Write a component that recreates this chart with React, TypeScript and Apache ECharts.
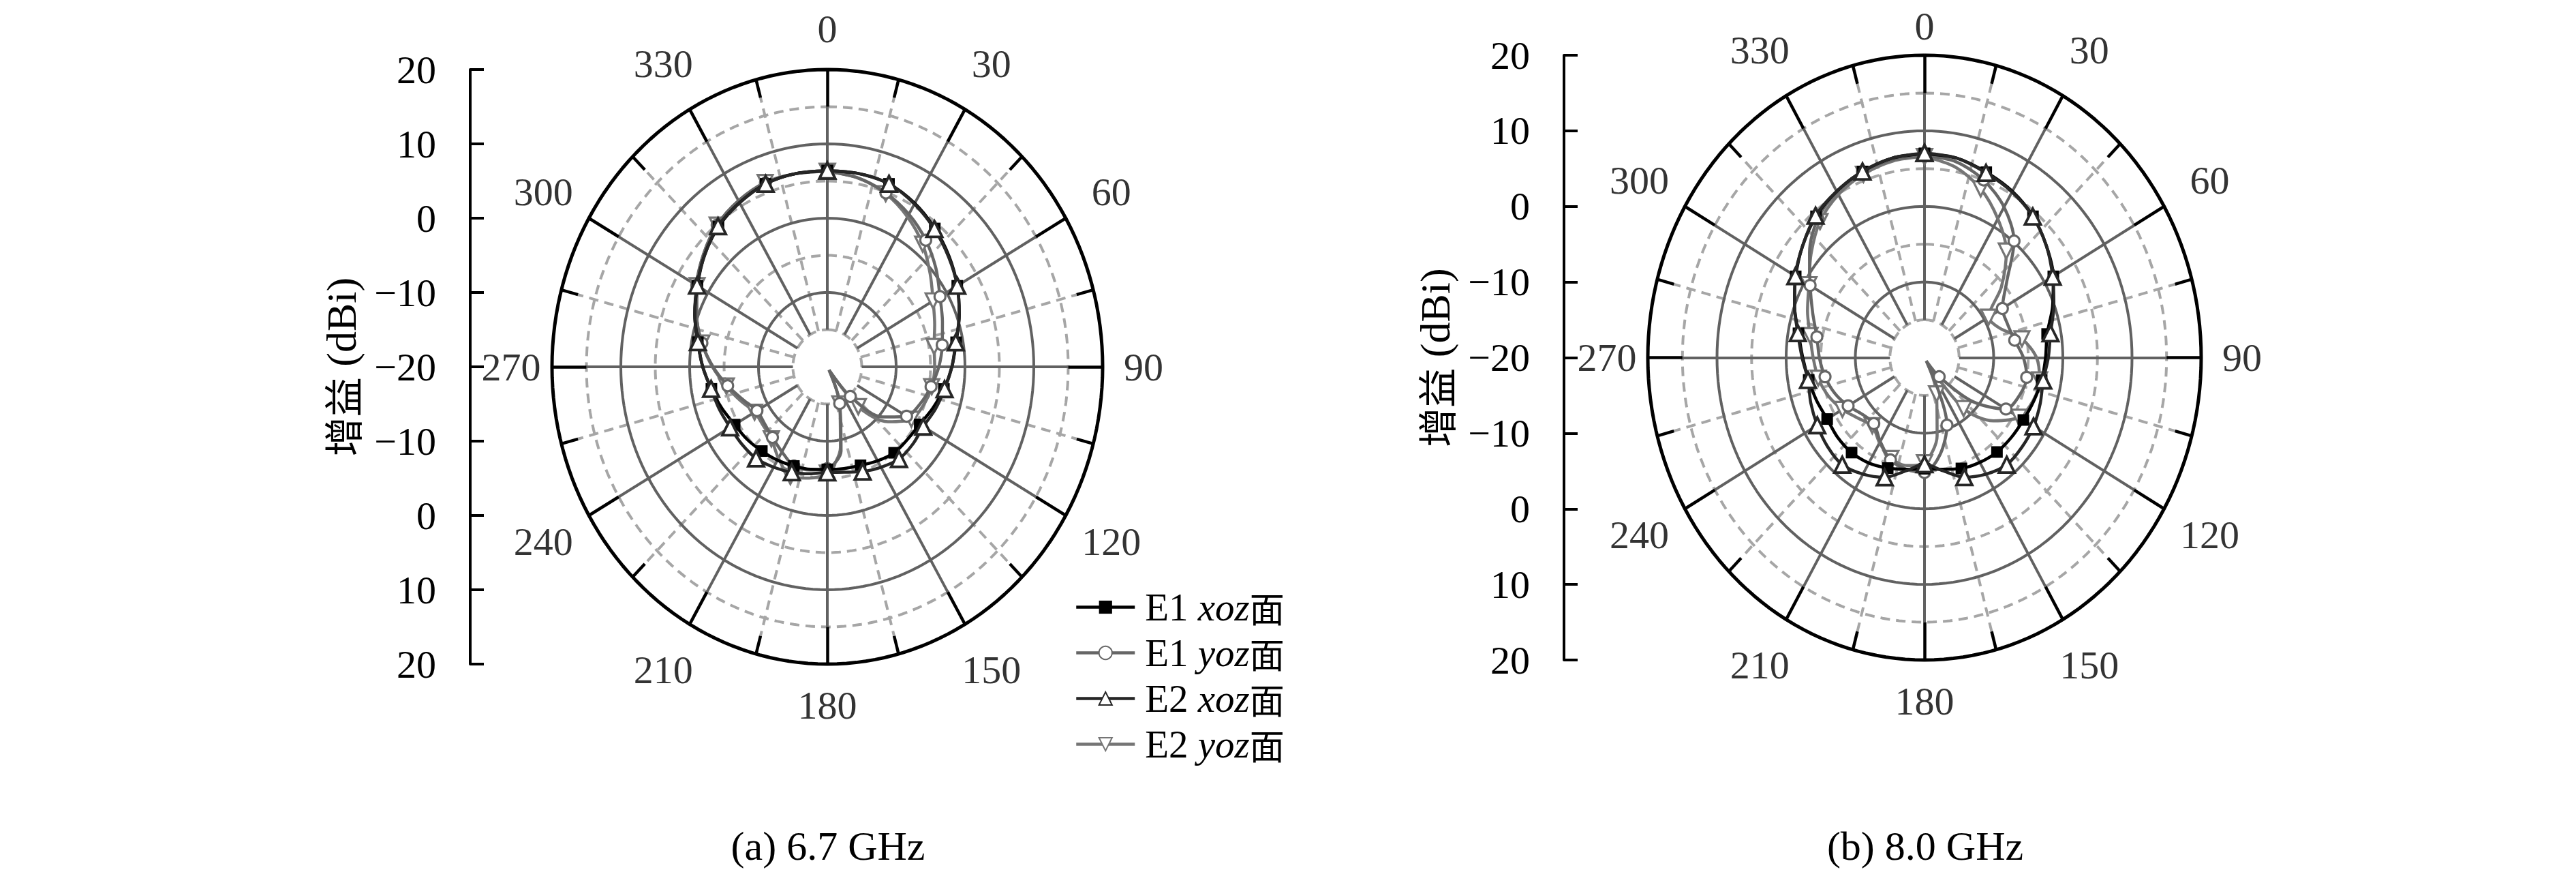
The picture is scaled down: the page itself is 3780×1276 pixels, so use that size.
import { useEffect, useRef } from "react";
import * as echarts from "echarts";

// ---------- data ----------
const ANGLES = [0, 10, 20, 30, 40, 50, 60, 70, 80, 90, 100, 110, 120, 130, 140, 150, 160, 170,
  180, 190, 200, 210, 220, 230, 240, 250, 260, 270, 280, 290, 300, 310, 320, 330, 340, 350];

const SERIES_NAMES = ["E1 xoz面", "E1 yoz面", "E2 xoz面", "E2 yoz面"];
const CAPTIONS = ["(a) 6.7 GHz", "(b) 8.0 GHz"];

// 6.7 GHz (gain, dBi)
const A_E1_XOZ = [6.4, 6.4, 6.2, 5.4, 4.3, 3.1, 1.8, 0.4, -1.0, -1.9, -2.8, -3.7, -4.5, -4.8, -4.9, -5.4, -5.9, -6.1,
  -6.2, -6.0, -5.8, -5.5, -5.2, -4.8, -4.45, -3.7, -2.9, -1.9, -0.9, 0.5, 1.8, 3.3, 4.6, 5.5, 6.2, 6.4];
const A_E1_YOZ = [6.3, 5.8, 4.9, 3.7, 2.25, 0.6, -1.1, -2.2, -3.05, -3.8, -4.7, -5.6, -6.7, -9.5, -14.8, -19.5, -14.75, -8.5,
  -6.3, -5.9, -5.8, -6.8, -7.6, -8.1, -8.2, -7.0, -5.3, -3.4, -1.5, 0.2, 1.9, 3.5, 4.9, 5.8, 6.3, 6.4];
const A_E2_XOZ = [6.4, 6.4, 6.2, 5.3, 4.2, 3.0, 1.8, 0.4, -1.05, -1.9, -2.7, -3.3, -3.9, -3.8, -3.8, -4.4, -5.0, -5.6,
  -5.8, -5.4, -4.9, -4.4, -3.9, -3.8, -3.7, -3.3, -2.85, -1.9, -0.9, 0.5, 1.86, 3.3, 4.7, 5.5, 6.2, 6.4];
const A_E2_YOZ = [6.3, 5.8, 4.8, 3.3, 1.55, -0.5, -2.25, -3.4, -4.24, -4.4, -4.6, -5.1, -5.9, -8.5, -13.0, -19.5, -14.7, -9.0,
  -5.7, -4.8, -4.3, -5.8, -7.35, -7.8, -7.8, -6.6, -5.1, -3.3, -1.5, 0.2, 1.85, 3.5, 4.9, 5.8, 6.4, 6.4];

// 8.0 GHz (gain, dBi)
const B_E1_XOZ = [7.0, 6.8, 6.1, 5.4, 4.4, 3.0, 1.5, -0.3, -2.0, -2.5, -2.8, -3.2, -3.5, -3.6, -3.7, -4.0, -4.4, -5.0,
  -5.3, -5.0, -4.45, -3.9, -3.6, -3.6, -3.75, -3.4, -3.0, -2.4, -1.5, 0.0, 1.5, 3.0, 4.4, 5.4, 6.2, 6.8];
const B_E1_YOZ = [6.74, 6.3, 5.0, 3.0, 0.14, -4.5, -7.0, -7.2, -6.76, -5.7, -5.0, -5.4, -6.4, -11.0, -16.7, -19.5, -10.5, -7.0,
  -4.8, -5.0, -5.6, -7.2, -8.6, -8.3, -7.25, -6.2, -5.4, -4.8, -4.2, -2.8, -0.9, 1.7, 4.0, 5.3, 6.2, 6.6];
const B_E2_XOZ = [7.06, 6.8, 6.0, 5.3, 4.36, 3.0, 1.4, -0.1, -1.5, -2.1, -2.57, -2.2, -1.8, -1.6, -1.5, -2.2, -3.16, -4.8,
  -5.9, -4.8, -3.15, -2.2, -1.5, -1.7, -2.1, -2.5, -2.9, -2.3, -1.4, 0.0, 1.56, 3.0, 4.5, 5.4, 6.2, 6.8];
const B_E2_YOZ = [6.6, 5.6, 3.76, 1.2, -1.6, -5.5, -9.3, -8.5, -5.7, -3.8, -3.1, -3.3, -4.24, -7.0, -11.2, -19.0, -14.9, -9.5,
  -6.1, -5.5, -5.8, -7.0, -8.25, -7.5, -6.3, -5.2, -4.4, -3.9, -3.2, -2.0, -0.7, 1.4, 3.5, 4.9, 5.8, 6.4];

// radial scale and grid
const R_MIN = -20;
const R_MAX = 20;
const RADIAL_TICK = 10;
const GRID_LEVELS = [-15, -10, -5, 0, 5, 10, 15, 20];
const SPOKE_ANGLES = [0, 15, 30, 45, 60, 75, 90, 105, 120, 135, 150, 165, 180, 195, 210, 225, 240, 255, 270, 285, 300, 315, 330, 345];
const ANGLE_LABELS = [0, 30, 60, 90, 120, 150, 180, 210, 240, 270, 300, 330];

// ---------- styles / layout ----------
const SERIF = '"Liberation Serif", "DejaVu Serif", serif';
const CJK = '"Noto Sans CJK SC", "Noto Sans CJK JP", sans-serif';
const FONT = 58;
const LABEL_GAP = 60;
const LABEL_DIAG_EXTRA = 20;
const LABEL_MIN_TOP = 38;
const MARK_EVERY = 2;

const PANELS = [
  { grid: { left: 810, top: 102, width: 808, height: 872 }, axisX: 690, captionX: 1215, data: [A_E1_XOZ, A_E1_YOZ, A_E2_XOZ, A_E2_YOZ] },
  { grid: { left: 2418, top: 81, width: 812, height: 887 }, axisX: 2295, captionX: 2825, data: [B_E1_XOZ, B_E1_YOZ, B_E2_XOZ, B_E2_YOZ] },
];

const SERIES_STYLE = [
  { symbol: "rect", size: 17, rotate: 0, line: "#000000", fill: "#000000", border: "#000000", bw: 0, z: 12 },
  { symbol: "circle", size: 16, rotate: 0, line: "#666666", fill: "#ffffff", border: "#666666", bw: 3.2, z: 11 },
  { symbol: "triangle", size: 23, rotate: 0, line: "#262626", fill: "#ffffff", border: "#262626", bw: 3.8, z: 13 },
  { symbol: "triangle", size: 22, rotate: 180, line: "#757575", fill: "#ffffff", border: "#757575", bw: 3.2, z: 10 },
];

const SPAN = R_MAX - R_MIN;

function toXY(angleDeg: number, gain: number): number[] {
  const r = Math.max(0, gain - R_MIN);
  const t = (angleDeg * Math.PI) / 180;
  return [r * Math.sin(t), r * Math.cos(t)];
}

function labelXY(panel: any, angleDeg: number): number[] {
  const pxX = panel.grid.width / (2 * SPAN);
  const pxY = panel.grid.height / (2 * SPAN);
  const t = (angleDeg * Math.PI) / 180;
  const s = Math.sin(t);
  const c = Math.cos(t);
  const d = LABEL_GAP + LABEL_DIAG_EXTRA * Math.abs(Math.sin(2 * t));
  const x = SPAN * s + (d * s) / pxX;
  let y = SPAN * c + (d * c) / pxY;
  const yMax = (panel.grid.top + panel.grid.height / 2 - LABEL_MIN_TOP) / pxY;
  y = Math.min(y, yMax);
  return [x, y];
}

function fmtGain(v: number): string {
  const n = Math.abs(v) + R_MIN;
  return n < 0 ? "\u2212" + String(-n) : String(n);
}

function buildPanelSeries(k: number, panel: any): any[] {
  const gains: number[][] = panel.data;
  const out: any[] = [];
  const base = { xAxisIndex: k, yAxisIndex: k, silent: true, animation: false };
  // circles
  const circleAngles: number[] = [];
  for (let a = 0; a <= 360; a += 2) circleAngles.push(a);
  GRID_LEVELS.forEach((lv) => {
    const dashed = Math.abs(lv) % 10 === 5;
    const outer = lv === R_MAX;
    out.push({
      ...base,
      type: "line",
      data: circleAngles.map((a) => toXY(a, lv)),
      showSymbol: false,
      symbol: "none",
      clip: false,
      z: outer ? 4 : dashed ? 1 : 2,
      lineStyle: outer
        ? { color: "#000", width: 5 }
        : dashed
        ? { color: "#a6a6a6", width: 4, type: [14, 9] }
        : { color: "#616161", width: 4 },
    });
  });
  // spokes
  const major = SPOKE_ANGLES.filter((a) => a % 30 === 0);
  const minor = SPOKE_ANGLES.filter((a) => a % 30 !== 0);
  const inner = GRID_LEVELS[0];
  out.push({
    ...base, type: "lines", coordinateSystem: "cartesian2d", z: 2,
    data: major.map((a) => ({ coords: [toXY(a, inner), toXY(a, 15)] })),
    lineStyle: { color: "#616161", width: 4, opacity: 1, curveness: 0 },
  });
  out.push({
    ...base, type: "lines", coordinateSystem: "cartesian2d", z: 1,
    data: minor.map((a) => ({ coords: [toXY(a, inner), toXY(a, 17.5)] })),
    lineStyle: { color: "#a6a6a6", width: 4, opacity: 1, type: [14, 9], curveness: 0 },
  });
  out.push({
    ...base, type: "lines", coordinateSystem: "cartesian2d", z: 4,
    data: major.map((a) => ({ coords: [toXY(a, 15), toXY(a, R_MAX)] })),
    lineStyle: { color: "#000", width: 4.5, opacity: 1, curveness: 0 },
  });
  out.push({
    ...base, type: "lines", coordinateSystem: "cartesian2d", z: 4,
    data: minor.map((a) => ({ coords: [toXY(a, 17.5), toXY(a, R_MAX)] })),
    lineStyle: { color: "#000", width: 4.5, opacity: 1, curveness: 0 },
  });
  // angle labels
  out.push({
    ...base,
    type: "scatter",
    clip: false,
    symbolSize: 1,
    itemStyle: { color: "rgba(0,0,0,0)" },
    data: ANGLE_LABELS.map((a) => labelXY(panel, a)),
    label: {
      show: true,
      position: "inside",
      formatter: (p: any) => String(ANGLE_LABELS[p.dataIndex]),
      fontFamily: SERIF,
      fontSize: FONT,
      color: "#000",
    },
    z: 5,
  });
  // data series
  gains.forEach((g, i) => {
    const st = SERIES_STYLE[i];
    const pts = ANGLES.map((a, j) => toXY(a, g[j]));
    pts.push(toXY(360, g[0]));
    out.push({
      type: "line",
      name: SERIES_NAMES[i],
      xAxisIndex: k,
      yAxisIndex: k,
      clip: false,
      smooth: 0.3,
      showSymbol: true,
      showAllSymbol: true,
      symbol: st.symbol,
      symbolSize: st.size,
      symbolRotate: st.rotate,
      data: pts.map((p, j) => (j % MARK_EVERY === 0 ? { value: p } : { value: p, symbol: "none" })),
      lineStyle: { color: st.line, width: 4.5 },
      itemStyle: { color: st.fill, borderColor: st.border, borderWidth: st.bw },
      emphasis: { disabled: true },
      z: st.z,
    });
  });
  return out;
}

export default function App() {
  const ref = useRef<HTMLDivElement>(null);
  useEffect(() => {
    if (!ref.current) return;
    const chart = echarts.init(ref.current, undefined, { renderer: "svg" });
    const grids = PANELS.map((p) => ({ ...p.grid, containLabel: false, outerBoundsMode: "none" }));
    const xAxes = PANELS.map((_, k) => ({
      gridIndex: k, type: "value", min: -SPAN, max: SPAN, show: false,
    }));
    const yAxes = PANELS.map((p, k) => ({
      gridIndex: k,
      type: "value",
      min: -SPAN,
      max: SPAN,
      interval: RADIAL_TICK,
      position: "left",
      offset: p.grid.left - p.axisX,
      axisLine: { show: true, onZero: false, lineStyle: { color: "#000", width: 4 } },
      axisTick: { show: true, inside: true, length: 20, lineStyle: { color: "#000", width: 4 } },
      axisLabel: { formatter: (v: number) => fmtGain(v), fontFamily: SERIF, fontSize: FONT, color: "#000", margin: 50 },
      splitLine: { show: false },
      name: "{c|增益}{l| (dBi)}",
      nameLocation: "middle",
      nameRotate: 90,
      nameGap: 158,
      nameTextStyle: {
        fontFamily: SERIF,
        fontSize: 62,
        color: "#000",
        rich: {
          c: { fontFamily: CJK, fontSize: 58, color: "#000" },
          l: { fontFamily: SERIF, fontSize: 62, color: "#000" },
        },
      },
    }));
    const series: any[] = [];
    PANELS.forEach((p, k) => series.push(...buildPanelSeries(k, p)));
    chart.setOption({
      animation: false,
      backgroundColor: "#ffffff",
      grid: grids,
      xAxis: xAxes,
      yAxis: yAxes,
      legend: {
        orient: "vertical",
        left: 1572,
        top: 857,
        itemWidth: 86,
        itemHeight: 24,
        itemGap: 10,
        selectedMode: false,
        data: SERIES_NAMES,
        lineStyle: { width: 4.5 },
        formatter: (name: string) => {
          const [e, plane] = name.split(" ");
          return `{r|${e} }{i|${plane.replace("面", "")}}{c|面}`;
        },
        textStyle: {
          fontFamily: SERIF,
          fontSize: 57,
          color: "#000",
          rich: {
            r: { fontFamily: SERIF, fontSize: 57, color: "#000", lineHeight: 58, padding: [0, 0, 0, 10] },
            i: { fontFamily: SERIF, fontStyle: "italic", fontSize: 57, color: "#000", lineHeight: 58 },
            c: { fontFamily: CJK, fontSize: 51, color: "#000", lineHeight: 58 },
          },
        },
      },
      graphic: PANELS.map((p, k) => ({
        type: "text",
        x: p.captionX,
        y: 1241,
        style: {
          text: CAPTIONS[k],
          fontFamily: SERIF,
          fontSize: 60,
          fill: "#000",
          align: "center",
          verticalAlign: "middle",
        },
      })),
      series,
    });
    return () => chart.dispose();
  }, []);
  return (
    <div
      ref={ref}
      style={{ position: "fixed", left: 0, top: 0, width: 3780, height: 1276, background: "#fff" }}
    />
  );
}
